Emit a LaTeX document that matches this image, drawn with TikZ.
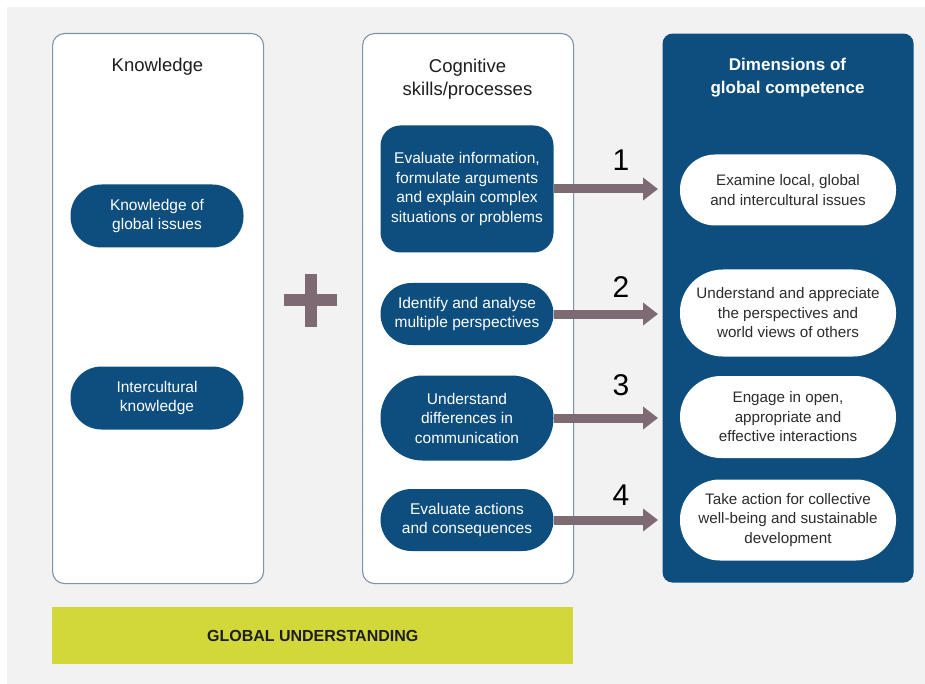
\documentclass[tikz,border=0pt]{standalone}
\usepackage{fontspec}
\setmainfont{Liberation Sans}
\usetikzlibrary{arrows.meta}
\definecolor{pagegrey}{HTML}{F2F2F2}
\definecolor{navy}{HTML}{0D4E7E}
\definecolor{panelline}{HTML}{7F93A8}
\definecolor{mauve}{HTML}{7E6A72}
\definecolor{lime}{HTML}{D3D83A}
\definecolor{ink}{HTML}{1E1E1E}
\definecolor{softink}{HTML}{2C2C2C}
\begin{document}
\begin{tikzpicture}[x=1pt,y=-1pt,
  panel/.style={draw=panelline, line width=1.1pt, fill=white, rounded corners=12pt,
    anchor=north west, minimum width=211pt, minimum height=550pt, inner sep=0pt},
  head/.style={text=ink, align=center, font=\fontsize{18.5}{23}\selectfont},
  skill/.style={fill=navy, text=white, align=center, minimum width=173pt,
    inner sep=0pt, font=\fontsize{15.5}{19.5}\selectfont},
  dimpill/.style={fill=white, text=softink, align=center, minimum width=216pt,
    inner sep=0pt, font=\fontsize{15.2}{19.5}\selectfont},
  flow/.style={draw=mauve, line width=9pt, shorten >=4pt,
    -{Triangle[width=22pt, length=15pt]}},
  num/.style={text=black, font=\fontsize{30}{30}\selectfont},
]
\useasboundingbox (0,0) rectangle (925,684);
\fill[white] (0,0) rectangle (925,684);
\fill[pagegrey] (7,7) rectangle (925,684);

% three columns
\node[panel] (know) at (52,33) {};
\node[panel] (cog) at (362,33) {};
\node[panel, fill=navy, draw=none, rounded corners=10pt, minimum width=251pt,
  minimum height=549pt] (dim) at (662,33) {};

% column headings
\node[head] (knowT) at (157.5,67) {Knowledge};
\node[head] (cogT) at (467.5,79) {Cognitive\\skills/processes};
\node[head, text=white, font=\bfseries\fontsize{17}{23}\selectfont] (dimT)
  at (787.5,78) {Dimensions of\\global competence};

% knowledge items
\node[skill, minimum height=63pt, rounded corners=31pt] (k1) at (157,216)
  {Knowledge of\\global issues};
\node[skill, minimum height=63pt, rounded corners=31pt] (k2) at (157,398)
  {Intercultural\\knowledge};

% cognitive skills
\node[skill, minimum height=127pt, rounded corners=20pt] (c1) at (467,189)
  {Evaluate information,\\formulate arguments\\and explain complex\\situations or problems};
\node[skill, minimum height=62pt, rounded corners=31pt] (c2) at (467,314)
  {Identify and analyse\\multiple perspectives};
\node[skill, minimum height=85pt, rounded corners=42pt] (c3) at (467,418)
  {Understand\\differences in\\communication};
\node[skill, minimum height=62pt, rounded corners=31pt] (c4) at (467,520)
  {Evaluate actions\\and consequences};

% dimensions of global competence
\node[dimpill, minimum height=71pt, rounded corners=35pt] (d1) at (788,190)
  {Examine local, global\\and intercultural issues};
\node[dimpill, minimum height=87pt, rounded corners=43pt] (d2) at (788,313)
  {Understand and appreciate\\the perspectives and\\world views of others};
\node[dimpill, minimum height=82pt, rounded corners=41pt] (d3) at (788,417)
  {Engage in open,\\appropriate and\\effective interactions};
\node[dimpill, minimum height=81pt, rounded corners=40pt] (d4) at (788,520)
  {Take action for collective\\well-being and sustainable\\development};

% plus sign between the first two columns
\fill[mauve] (284,294) rectangle (337,306);
\fill[mauve] (304.5,274) rectangle (316.5,327);

% arrows from skills to dimensions
\draw[flow] (c1.east) -- (c1.east -| dim.west);
\draw[flow] (c2.east) -- (c2.east -| dim.west);
\draw[flow] (c3.east) -- (c3.east -| dim.west);
\draw[flow] (c4.east) -- (c4.east -| dim.west);

\node[num] (n1) at (621,160) {1};
\node[num] (n2) at (621,287) {2};
\node[num] (n3) at (621,385) {3};
\node[num] (n4) at (621,495) {4};

% foundation bar
\node[fill=lime, anchor=north west, minimum width=521pt, minimum height=57pt,
  inner sep=0pt, text=ink, font=\bfseries\fontsize{16}{18}\selectfont] (gu)
  at (52,607) {GLOBAL UNDERSTANDING};
\end{tikzpicture}
\end{document}
